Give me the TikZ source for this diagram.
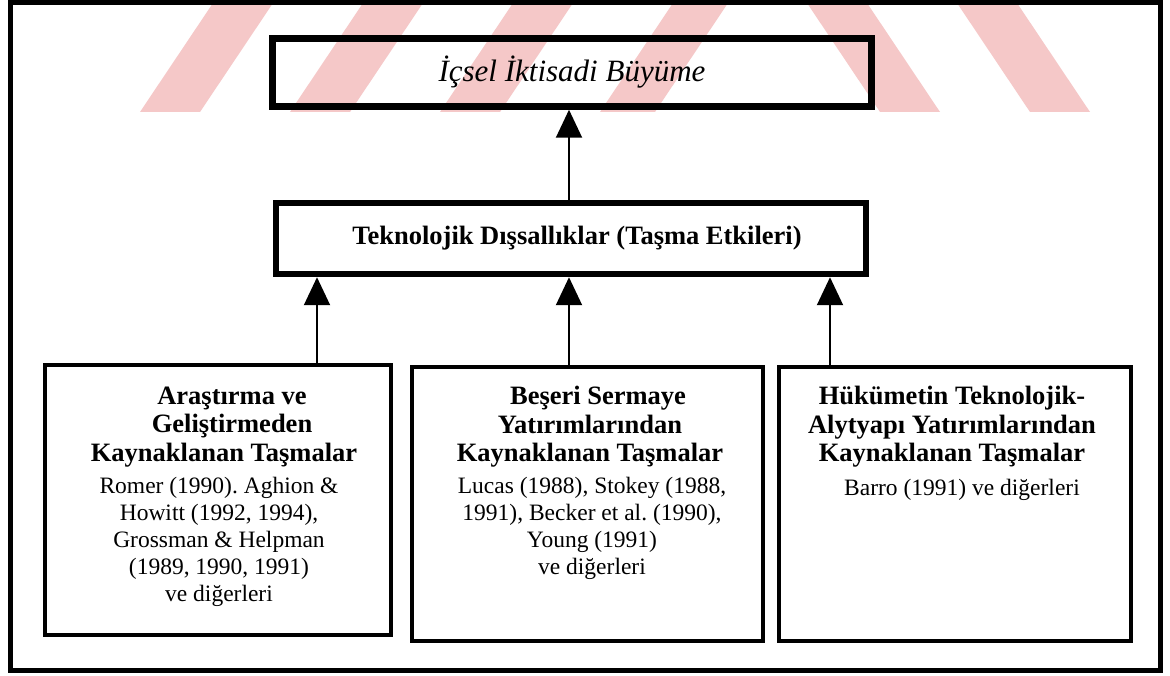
\documentclass[tikz,border=0pt]{standalone}
\usepackage{fontspec}
\setmainfont{Liberation Serif}
\usetikzlibrary{arrows.meta}
\frenchspacing
\definecolor{wm}{RGB}{245,200,200}
\tikzset{
  thickbox/.style={draw=black, line width=6.5pt, rectangle, inner sep=0pt},
  lowbox/.style={draw=black, line width=4.5pt, rectangle, inner sep=0pt},
  frame/.style={draw=black, line width=5pt},
  arr/.style={line width=2pt, -{Triangle[width=26pt,length=28pt]}},
  headtxt/.style={font=\fontsize{26.5}{28.5}\bfseries\selectfont, align=center, inner sep=0pt},
  bodytxt/.style={font=\fontsize{23.5}{27}\selectfont, align=center, inner sep=0pt},
  toptxt/.style={font=\fontsize{31}{33}\itshape\selectfont, inner sep=0pt},
  midtxt/.style={font=\fontsize{26.5}{28}\bfseries\selectfont, inner sep=0pt},
}
\begin{document}
\begin{tikzpicture}[x=1pt,y=-1pt]
\useasboundingbox (0,0) rectangle (1170,676);
\fill[white] (0,0) rectangle (1170,676);
% watermark stripes
\begin{scope}
\clip (0,0) rectangle (1170,112);
\fill[wm] (140,112) -- (200,112) -- (275,0) -- (215,0) -- cycle;
\fill[wm] (290,112) -- (350,112) -- (425,0) -- (365,0) -- cycle;
\fill[wm] (440,112) -- (500,112) -- (575,0) -- (515,0) -- cycle;
\fill[wm] (600,112) -- (655,112) -- (730,0) -- (675,0) -- cycle;
\fill[wm] (880,112) -- (940,112) -- (865,0) -- (805,0) -- cycle;
\fill[wm] (1030,112) -- (1090,112) -- (1015,0) -- (955,0) -- cycle;
\end{scope}
% outer frame
\draw[frame] (10,3) rectangle (1160,670);
% boxes
\node[thickbox, minimum width=599pt, minimum height=68pt] (top) at (572,72.5) {};
\node[thickbox, minimum width=590pt, minimum height=71pt] (mid) at (571,238.5) {};
\node[lowbox, minimum width=346pt, minimum height=270pt] (lb) at (218,500) {};
\node[lowbox, minimum width=351pt, minimum height=274pt] (cb) at (587.5,504) {};
\node[lowbox, minimum width=352pt, minimum height=274pt] (rb) at (955,504) {};
% texts
\node[toptxt] (toplabel) at (top.center) {İçsel İktisadi Büyüme};
\node[midtxt] (midlabel) at ([xshift=6pt]mid.center) {Teknolojik Dışsallıklar (Taşma Etkileri)};
\node[headtxt] (lbh) at (224,427) {\hspace*{16pt}Araştırma ve\\\hspace*{16pt}Geliştirmeden\\Kaynaklanan Taşmalar};
\node[bodytxt, anchor=north] (lbb) at (219,477) {Romer (1990). Aghion \&\\Howitt (1992, 1994),\\Grossman \& Helpman\\(1989, 1990, 1991)\\ve diğerleri};
\node[headtxt] (cbh) at (590,427) {\hspace*{16pt}Beşeri Sermaye\\Yatırımlarından\hspace*{30pt}\\Kaynaklanan Taşmalar};
\node[bodytxt, anchor=north] (cbb) at (592,477) {Lucas (1988), Stokey (1988,\\1991), Becker et al. (1990),\\Young (1991)\\ve diğerleri};
\node[headtxt] (rbh) at (952,427) {Hükümetin Teknolojik-\\Alytyapı Yatırımlarından\\Kaynaklanan Taşmalar};
\node[bodytxt, anchor=north] (rbb) at (962,479) {Barro (1991) ve diğerleri};
% connectors
\coordinate (c0) at (569,0);
\coordinate (c1) at (317,0);
\coordinate (c2) at (569,0);
\coordinate (c3) at (830,0);
\draw[arr] (mid.north -| c0) -- (top.south -| c0);
\draw[arr] (lb.north -| c1) -- (mid.south -| c1);
\draw[arr] (cb.north -| c2) -- (mid.south -| c2);
\draw[arr] (rb.north -| c3) -- (mid.south -| c3);
\end{tikzpicture}
\end{document}
